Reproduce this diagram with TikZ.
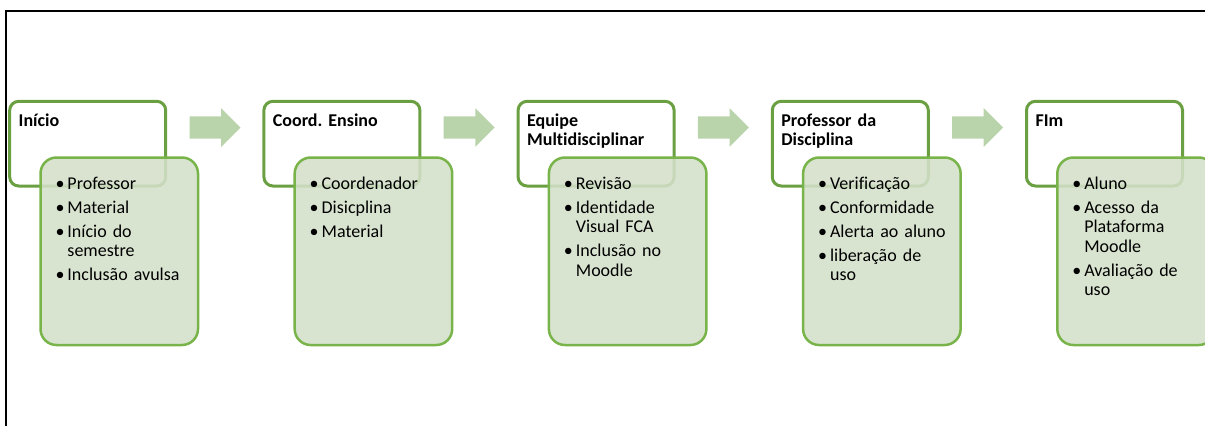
\documentclass[tikz,border=0pt]{standalone}
\usepackage{fontspec}
\setmainfont[Ligatures=NoCommon]{Carlito}
\usetikzlibrary{shapes.arrows}

\definecolor{headgreen}{RGB}{106,160,66}
\definecolor{itemgreen}{RGB}{120,180,74}
\definecolor{itemfill}{RGB}{212,224,202}
\definecolor{arrowgreen}{RGB}{185,212,171}

\frenchspacing

\begin{document}
\begin{tikzpicture}[
    x=1pt, y=-1pt,
    head/.style={rectangle, draw=headgreen, line width=3pt, rounded corners=9pt, fill=white, anchor=north west, inner xsep=9pt, inner ysep=0pt, text width=138pt, text height=25pt, text depth=59.7pt, align=left, font=\fontsize{18}{19.5}\selectfont\bfseries},
    items/.style={rectangle, draw=itemgreen, line width=2.5pt, rounded corners=16pt, fill=itemfill, fill opacity=0.88, text opacity=1, anchor=north west, inner xsep=15pt, inner ysep=0pt, text width=127.5pt, text height=31.5pt, text depth=156pt, align=left, font=\fontsize{18}{19.5}\selectfont},
    arrow/.style={single arrow, fill=arrowgreen, draw=none, inner sep=11pt, minimum height=51pt, minimum width=38.4pt, single arrow head extend=8.2pt, anchor=tail}
]
    \useasboundingbox (0,0) rectangle (1205,426);

    % Frame
    \draw[line width=2pt] (1205,11) -- (6,11) -- (6,426);

    % Headers
    \node[head] (inicio) at (8.2, 99.8) {Início};
    \node[head] (coord) at (262.4, 99.8) {Coord. Ensino};
    \node[head] (equipe) at (516.6, 99.8) {Equipe\\Multidisciplinar};
    \node[head] (professor) at (770.8, 99.8) {Professor da\\Disciplina};
    \node[head] (fim) at (1025, 99.8) {FIm};

    % Item lists
    \node[items] (inicio-list) at (39.25, 156.25) {\begin{tabular}[t]{@{}l@{\hspace{3pt}}l@{}}
        • & Professor\\[4.5pt]
        • & Material\\[4.5pt]
        • & Início do\\
          & semestre\\[4.5pt]
        • & Inclusão avulsa
    \end{tabular}};
    \node[items] (coord-list) at (293.45, 156.25) {\begin{tabular}[t]{@{}l@{\hspace{3pt}}l@{}}
        • & Coordenador\\[4.5pt]
        • & Disicplina\\[4.5pt]
        • & Material
    \end{tabular}};
    \node[items] (equipe-list) at (547.65, 156.25) {\begin{tabular}[t]{@{}l@{\hspace{3pt}}l@{}}
        • & Revisão\\[4.5pt]
        • & Identidade\\
          & Visual FCA\\[4.5pt]
        • & Inclusão no\\
          & Moodle
    \end{tabular}};
    \node[items] (professor-list) at (801.85, 156.25) {\begin{tabular}[t]{@{}l@{\hspace{3pt}}l@{}}
        • & Verificação\\[4.5pt]
        • & Conformidade\\[4.5pt]
        • & Alerta ao aluno\\[4.5pt]
        • & liberação de\\
          & uso
    \end{tabular}};
    \node[items] (fim-list) at (1056.05, 156.25) {\begin{tabular}[t]{@{}l@{\hspace{3pt}}l@{}}
        • & Aluno\\[4.5pt]
        • & Acesso da\\
          & Plataforma\\
          & Moodle\\[4.5pt]
        • & Avaliação de\\
          & uso
    \end{tabular}};

    % Arrows
    \node[arrow] (seta1) at (189.3, 127.5) {};
    \node[arrow] (seta2) at (443.5, 127.5) {};
    \node[arrow] (seta3) at (697.7, 127.5) {};
    \node[arrow] (seta4) at (951.9, 127.5) {};
\end{tikzpicture}
\end{document}
